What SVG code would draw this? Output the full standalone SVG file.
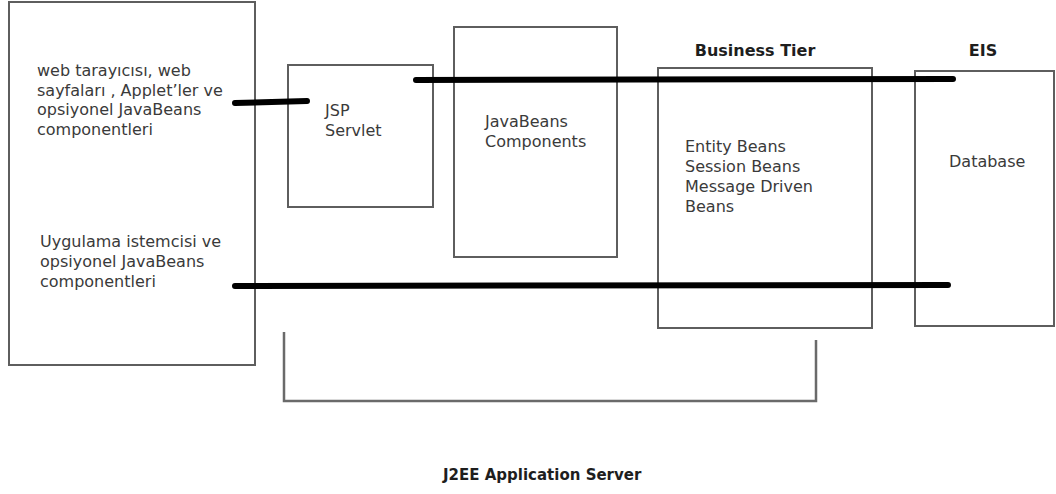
<svg xmlns="http://www.w3.org/2000/svg" width="1056" height="494" viewBox="0 0 1056 494">
  <style>
    .box { fill: #ffffff; stroke: #5e5e5e; stroke-width: 2; }
    .lbl { font-family: "DejaVu Sans", Verdana, sans-serif; font-size: 16px; fill: #3a3a3a; }
    .head { font-family: "DejaVu Sans", Verdana, sans-serif; font-size: 16px; font-weight: bold; fill: #1e1e1e; }
    .link { stroke: #000000; stroke-width: 6; stroke-linecap: round; fill: none; }
    .brace { stroke: #6a6a6a; stroke-width: 2.5; fill: none; }
  </style>
  <rect width="1056" height="494" fill="#ffffff"/>

  <!-- client tier -->
  <g id="client">
    <rect class="box" x="9" y="2" width="246" height="363"/>
    <text class="lbl" x="37" y="76">web tarayıcısı, web</text>
    <text class="lbl" x="37" y="96">sayfaları , Applet’ler ve</text>
    <text class="lbl" x="37" y="115">opsiyonel JavaBeans</text>
    <text class="lbl" x="37" y="135">componentleri</text>
    <text class="lbl" x="40" y="247">Uygulama istemcisi ve</text>
    <text class="lbl" x="40" y="267">opsiyonel JavaBeans</text>
    <text class="lbl" x="40" y="287">componentleri</text>
  </g>

  <!-- web tier -->
  <g id="jsp-servlet">
    <rect class="box" x="288" y="65" width="145" height="142"/>
    <text class="lbl" x="325" y="116">JSP</text>
    <text class="lbl" x="325" y="136">Servlet</text>
  </g>

  <g id="javabeans">
    <rect class="box" x="454" y="27" width="163" height="230"/>
    <text class="lbl" x="485" y="127">JavaBeans</text>
    <text class="lbl" x="485" y="147">Components</text>
  </g>

  <!-- business tier -->
  <g id="business-tier">
    <text class="head" x="755" y="56" text-anchor="middle">Business Tier</text>
    <rect class="box" x="658" y="68" width="214" height="260"/>
    <text class="lbl" x="685" y="152">Entity Beans</text>
    <text class="lbl" x="685" y="172">Session Beans</text>
    <text class="lbl" x="685" y="192">Message Driven</text>
    <text class="lbl" x="685" y="212">Beans</text>
  </g>

  <!-- enterprise information system -->
  <g id="eis">
    <text class="head" x="983" y="56" text-anchor="middle">EIS</text>
    <rect class="box" x="915" y="71" width="139" height="255"/>
    <text class="lbl" x="949" y="167">Database</text>
  </g>

  <!-- application server grouping -->
  <g id="app-server">
    <polyline class="brace" points="284,332 284,401 816,401 816,340"/>
    <text class="head" x="443" y="480" style="font-size:15px">J2EE Application Server</text>
  </g>

  <!-- connections between tiers -->
  <g id="connectors">
    <line class="link" x1="235" y1="103" x2="307" y2="101"/>
    <line class="link" x1="416" y1="80" x2="953" y2="79"/>
    <line class="link" x1="235" y1="286" x2="948" y2="285"/>
  </g>
</svg>
